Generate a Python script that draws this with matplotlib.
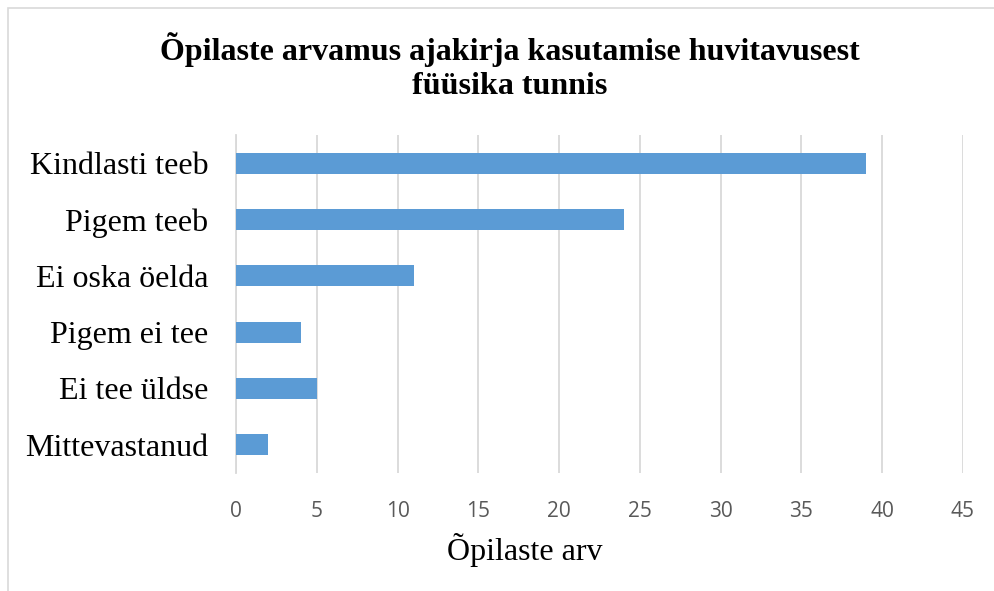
import matplotlib
matplotlib.use('Agg')
import matplotlib.pyplot as plt
from matplotlib.patches import Rectangle

categories = ['Kindlasti teeb', 'Pigem teeb', 'Ei oska öelda', 'Pigem ei tee', 'Ei tee üldse', 'Mittevastanud']
values = [39, 24, 11, 4, 5, 2]
xticks = [0, 5, 10, 15, 20, 25, 30, 35, 40, 45]

serif = 'Liberation Serif'

fig = plt.figure(figsize=(9.94, 5.91), dpi=100)
ax = fig.add_axes([0.2374, 0.1997, 0.9688 - 0.2374, 0.7716 - 0.1997])

# chart frame (clipped on right/bottom like the source)
fig.patches.append(Rectangle((0.008, -0.1), 1.2, 1.086, transform=fig.transFigure,
                             fill=False, edgecolor='#d9d9d9', linewidth=1.2))

y = list(range(len(categories)))
ax.barh(y, values, height=0.37, color='#5b9bd5', zorder=3)
ax.set_ylim(len(categories) - 0.5, -0.5)
ax.set_xlim(0, 45)
ax.set_xticks(xticks)
ax.set_yticks(y)
ax.set_yticklabels(categories, fontfamily=serif, fontsize=23)
ax.tick_params(axis='y', length=0, pad=20)
ax.tick_params(axis='x', length=0, pad=20, labelsize=15, labelcolor='#595959')
for lab in ax.get_xticklabels():
    lab.set_fontfamily('Open Sans')

ax.grid(axis='x', color='#d9d9d9', linewidth=1.3, zorder=0)
for s in ['top', 'right', 'bottom']:
    ax.spines[s].set_visible(False)
ax.spines['left'].set_color('#d9d9d9')
ax.spines['left'].set_linewidth(1.3)

fig.text(0.528, 0.069, 'Õpilaste arv', ha='center', va='center',
         fontfamily=serif, fontsize=23)

fig.text(0.513, 0.8875, 'Õpilaste arvamus ajakirja kasutamise huvitavusest\nfüüsika tunnis',
         ha='center', va='center', fontfamily=serif, fontsize=23, fontweight='bold',
         linespacing=1.2)

fig.savefig('out.png', dpi=100)
